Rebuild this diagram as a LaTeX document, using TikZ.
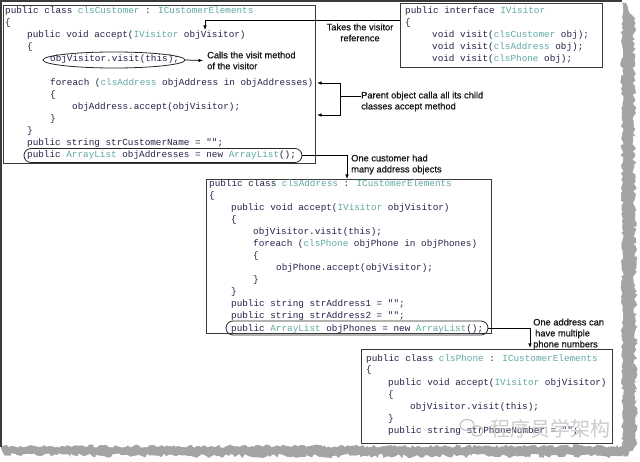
\documentclass[tikz,border=0pt]{standalone}
\usepackage{fontspec}
\setmainfont{Liberation Sans}
\newfontfamily\codefont{Liberation Mono}
\newfontfamily\lblfont{Liberation Sans}[FakeBold=0.7]
\newfontfamily\cjkfont{Noto Sans CJK SC}
\usetikzlibrary{arrows.meta,shapes.geometric,decorations.pathmorphing}
\definecolor{codetxt}{HTML}{23234A}
\definecolor{typecol}{HTML}{5FA8A2}
\definecolor{boxline}{HTML}{3A3A3A}
\definecolor{shadowgray}{HTML}{A4A4A4}
\newcommand{\ty}[1]{\textcolor{typecol}{#1}}
\begin{document}
\begin{tikzpicture}[x=1pt,y=-1pt,
  code/.style={anchor=base west, inner sep=0pt, font=\codefont\fontsize{9.33}{12}\selectfont, text=codetxt},
  codebox/.style={draw=boxline, line width=0.9pt, anchor=north west, inner sep=0pt},
  lbl/.style={font=\lblfont\fontsize{9.3}{11}\selectfont, inner sep=0pt, text=black!90, align=left},
  arr/.style={draw=black, line width=0.75pt, -{Latex[length=4.5pt,width=3.5pt]}},
  ring/.style={draw=black!85, line width=0.8pt, inner sep=0pt},
]
\useasboundingbox (0,0) rectangle (640,462);
\pgfmathsetseed{11}
% torn page shadow
\fill[shadowgray] (616,2) -- (626,3)
  decorate[decoration={random steps,segment length=2.5pt,amplitude=2.2pt}]
  {-- (634,20) -- (636,445) -- (628,456) -- (200,456) -- (4,455)}
  -- (1,448) -- (1,440) -- (616,440) -- cycle;
% white page
\fill[white] (1,1) -- (622,1)
  decorate[decoration={random steps,segment length=2.5pt,amplitude=1.6pt}]
  {-- (622,446) -- (2,446)} -- cycle;
\draw[boxline, line width=1.6pt] (1,447) -- (1,1) -- (622,1);

% boxes
\node[codebox, minimum width=312pt, minimum height=158pt] (cust) at (3,5) {};
\node[codebox, minimum width=202pt, minimum height=64pt] (ibox) at (400,3) {};
\node[codebox, minimum width=285pt, minimum height=154pt] (addr) at (206,179) {};
\node[codebox, minimum width=251pt, minimum height=94pt] (phone) at (361,349) {};

% clsCustomer
\node[code] (cu1) at (5,14) {public class \ty{clsCustomer} : \ty{ICustomerElements}};
\node[code] (cu2) at (5,26) {\{};
\node[code] (cu3) at (27,38) {public void accept(\ty{IVisitor} objVisitor)};
\node[code] (cu4) at (27,50) {\{};
\node[code] (cu5) at (50,62) {objVisitor.visit(this);};
\node[code] (cu7) at (50,86) {foreach (\ty{clsAddress} objAddress in objAddresses)};
\node[code] (cu8) at (50,98) {\{};
\node[code] (cu9) at (72,110) {objAddress.accept(objVisitor);};
\node[code] (cu10) at (50,122) {\}};
\node[code] (cu11) at (27,134) {\}};
\node[code] (cu12) at (27,146) {public string strCustomerName = "";};
\node[code] (cu13) at (27,158) {public \ty{ArrayList} objAddresses = new \ty{ArrayList}();};

% IVisitor
\node[code] (iv1) at (405,14) {public interface \ty{IVisitor}};
\node[code] (iv2) at (405,26) {\{};
\node[code] (iv3) at (432,38) {void visit(\ty{clsCustomer} obj);};
\node[code] (iv4) at (432,50) {void visit(\ty{clsAddress} obj);};
\node[code] (iv5) at (432,62) {void visit(\ty{clsPhone} obj);};

% clsAddress
\node[code] (ad1) at (209,187) {public class \ty{clsAddress} : \ty{ICustomerElements}};
\node[code] (ad2) at (209,199) {\{};
\node[code] (ad3) at (231,211) {public void accept(\ty{IVisitor} objVisitor)};
\node[code] (ad4) at (231,223) {\{};
\node[code] (ad5) at (253,235) {objVisitor.visit(this);};
\node[code] (ad6) at (253,247) {foreach (\ty{clsPhone} objPhone in objPhones)};
\node[code] (ad7) at (253,259) {\{};
\node[code] (ad8) at (276,271) {objPhone.accept(objVisitor);};
\node[code] (ad9) at (253,283) {\}};
\node[code] (ad10) at (231,295) {\}};
\node[code] (ad11) at (231,307) {public string strAddress1 = "";};
\node[code] (ad12) at (231,319) {public string strAddress2 = "";};
\node[code] (ad13) at (231,331) {public \ty{ArrayList} objPhones = new \ty{ArrayList}();};

% clsPhone
\node[code] (ph1) at (366,361) {public class \ty{clsPhone} : \ty{ICustomerElements}};
\node[code] (ph2) at (366,373) {\{};
\node[code] (ph3) at (388,385) {public void accept(\ty{IVisitor} objVisitor)};
\node[code] (ph4) at (388,397) {\{};
\node[code] (ph5) at (410,409) {objVisitor.visit(this);};
\node[code] (ph6) at (388,421) {\}};
\node[code] (ph7) at (388,433) {public string strPhoneNumber = "";};

% rings
\node[ring, ellipse, minimum width=142pt, minimum height=16pt] (e1) at (114,60) {};
\node[ring, rounded corners=7pt, minimum width=278pt, minimum height=14pt] (e2) at (163,155.5) {};
\node[ring, rounded corners=7pt, minimum width=262pt, minimum height=14pt] (e3) at (357,328) {};

% labels
\node[lbl, anchor=west] (calls) at (207,60.5) {Calls the visit method\\of the visitor};
\node[lbl, align=center] (takes) at (360,32.5) {Takes the visitor\\reference};
\node[lbl, anchor=west] (par) at (361,101.5) {Parent object calla all its child\\classes accept method};
\node[lbl, anchor=west] (many) at (351,164.5) {One customer had\\many address objects};
\node[lbl, anchor=west] (multi) at (533,334) {One address can\\\hspace*{2pt}have multiple\\phone numbers};

% coordinates
\coordinate (visTip) at (205,30);
\coordinate (brk) at (340,96);
\coordinate (pa) at (317,83);
\coordinate (pb) at (317,115);
\coordinate (aIn) at (347,179);
\coordinate (pIn) at (530,348);

% connectors
\draw[arr] ([yshift=-17pt]ibox.north west) -| (visTip);
\draw[arr] (e1.east) -- ([xshift=-4pt]calls.west);
\draw[arr] (brk -| par.west) -- (brk) |- (pa);
\draw[arr] (brk) |- (pb);
\draw[arr] (e2.east) -| (aIn);
\draw[arr] (e3.east) -| (pIn);

% watermark
\draw[gray!45, line width=1.2pt] (467,425) ellipse [x radius=7pt, y radius=5.5pt];
\draw[gray!45, line width=1.2pt] (477,431) ellipse [x radius=6pt, y radius=5pt];
\node[text=gray!50, opacity=0.8, font=\cjkfont\fontsize{20}{20}\selectfont, anchor=west, inner sep=0pt] (wm) at (490,429) {程序员学架构};
\end{tikzpicture}
\end{document}
